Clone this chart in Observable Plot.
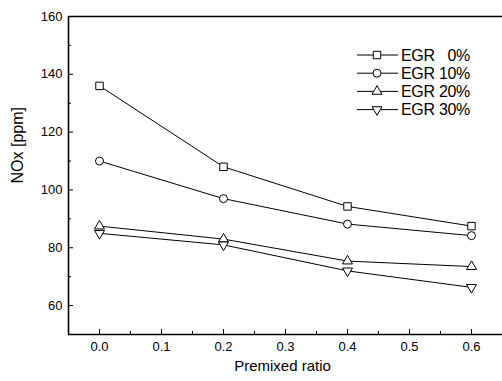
<!DOCTYPE html>
<html>
<head>
<meta charset="utf-8">
<script src="https://cdn.jsdelivr.net/npm/d3@7"></script>
<script src="https://cdn.jsdelivr.net/npm/@observablehq/plot@0.6"></script>
<style>
  body { margin: 0; background: white; }
  #chart { width: 502px; height: 381px; overflow: hidden; }
</style>
</head>
<body>
<div id="chart"></div>
<script>
const premixed = [0.0, 0.2, 0.4, 0.6];
const seriesNames = ["EGR \u20070%", "EGR 10%", "EGR 20%", "EGR 30%"];
const egr0  = [136, 108, 94.3, 87.5];
const egr10 = [110, 97, 88.2, 84.2];
const egr20 = [87.5, 83, 75.4, 73.5];
const egr30 = [85, 81, 72, 66.3];
const yMajorTicks = [60, 80, 100, 120, 140, 160];
const yMinorTicks = [70, 90, 110, 130, 150];
const xMajorTicks = [0.0, 0.1, 0.2, 0.3, 0.4, 0.5, 0.6];
const xMinorTicks = [0.05, 0.15, 0.25, 0.35, 0.45, 0.55];
const xLabel = "Premixed ratio";
const yLabel = "NOx [ppm]";

const values = [egr0, egr10, egr20, egr30];
const symbols = ["square", "circle", "triangle", "triangle"];
const rotations = [0, 0, 0, 180];
const radii = [4.2, 4, 3.7, 3.7];

const rows = [];
values.forEach((vals, i) => vals.forEach((v, j) => rows.push({x: premixed[j], y: v, s: seriesNames[i]})));

const marks = [];
// frame lines (left, bottom, top)
marks.push(Plot.ruleX([-0.05], {stroke: "black", strokeWidth: 1.6}));
marks.push(Plot.ruleY([50, 160], {stroke: "black", strokeWidth: 1.6}));
// axes
marks.push(Plot.axisY({ticks: yMajorTicks, tickSize: 0, tickPadding: 6, fontSize: 13, label: null}));
marks.push(Plot.axisY({ticks: yMajorTicks, tickSize: -5, tickFormat: () => "", label: null}));
marks.push(Plot.axisY({ticks: yMinorTicks, tickSize: -3, tickFormat: () => "", label: null}));
marks.push(Plot.axisX({ticks: xMajorTicks, tickSize: 0, tickPadding: 7, fontSize: 13, tickFormat: d3.format(".1f"), label: null}));
marks.push(Plot.axisX({ticks: xMajorTicks, tickSize: -5, tickFormat: () => "", label: null}));
marks.push(Plot.axisX({ticks: xMinorTicks, tickSize: -3, tickFormat: () => "", label: null}));
// axis titles
marks.push(Plot.text([yLabel], {frameAnchor: "left", rotate: -90, dx: -51, dy: 8, fontSize: 16, fill: "black"}));
marks.push(Plot.text([xLabel], {frameAnchor: "bottom", dx: -3, dy: 36, fontSize: 15, fill: "black"}));
// lines
marks.push(Plot.line(rows, {x: "x", y: "y", z: "s", stroke: "black", strokeWidth: 1}));
// markers
seriesNames.forEach((name, i) => {
  marks.push(Plot.dot(rows.filter(d => d.s === name), {
    x: "x", y: "y", symbol: symbols[i], rotate: rotations[i], r: radii[i],
    fill: "white", stroke: "black", strokeWidth: 1
  }));
});

const plot = Plot.plot({
  width: 502,
  height: 381,
  marginLeft: 68,
  marginRight: 0,
  marginTop: 16,
  marginBottom: 47,
  x: {domain: [-0.05, 0.65]},
  y: {domain: [50, 160]},
  style: {fontFamily: "'Liberation Sans', Arial, sans-serif", fontSize: "13px", background: "white", color: "black"},
  marks
});

// legend (inside plot, top right)
const svg = d3.select(plot);
const lg = svg.append("g")
  .attr("font-family", "'Liberation Sans', Arial, sans-serif")
  .attr("font-size", 16)
  .attr("text-anchor", "start");
const symType = {square: d3.symbolSquare, circle: d3.symbolCircle, triangle: d3.symbolTriangle};
seriesNames.forEach((name, i) => {
  const y = 55 + i * 18.2;
  const row = lg.append("g").attr("transform", `translate(0,${y})`);
  row.append("line").attr("x1", 357).attr("x2", 398).attr("y1", 0).attr("y2", 0)
    .attr("stroke", "black").attr("stroke-width", 1);
  row.append("path")
    .attr("d", d3.symbol().type(symType[symbols[i]]).size(Math.PI * radii[i] * radii[i])())
    .attr("transform", `translate(377,0) rotate(${rotations[i]})`)
    .attr("fill", "white").attr("stroke", "black").attr("stroke-width", 1);
  row.append("text").attr("x", 401).attr("y", 0).attr("dy", "0.35em")
    .attr("fill", "black").attr("text-anchor", "start").attr("letter-spacing", "-0.3").text(name);
});

document.getElementById("chart").appendChild(plot);
</script>
</body>
</html>
